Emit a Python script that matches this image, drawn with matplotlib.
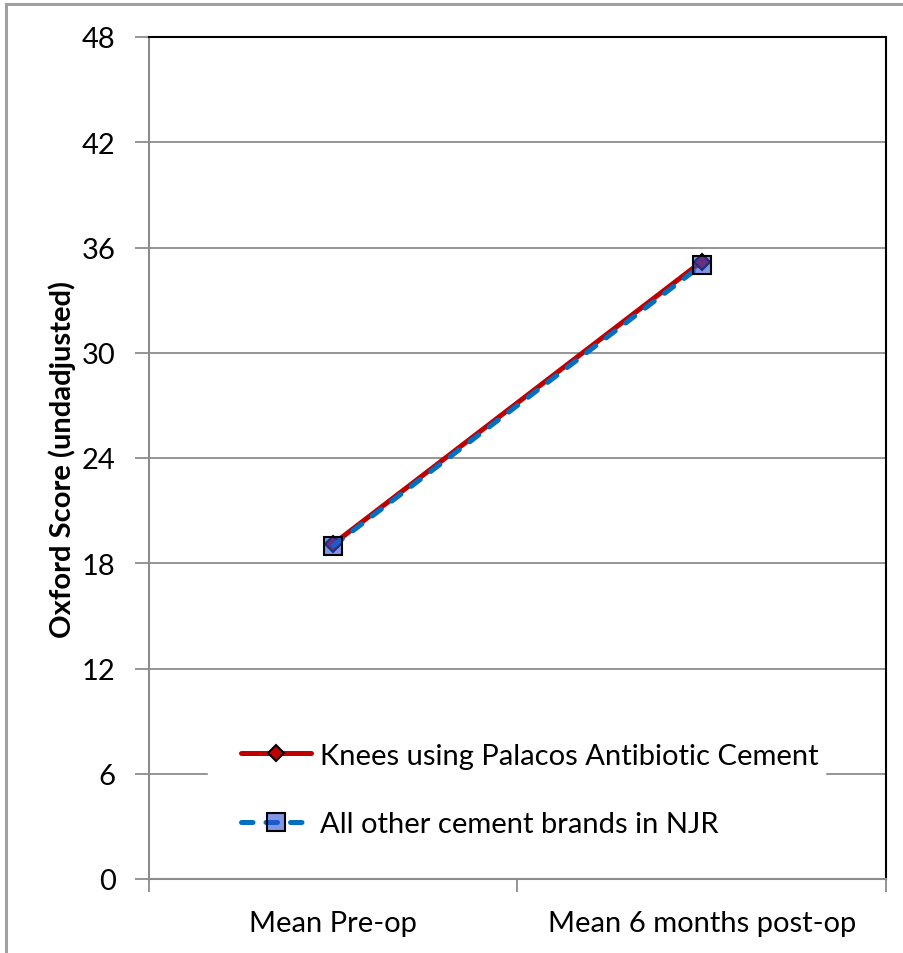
import matplotlib.pyplot as plt
from matplotlib.lines import Line2D
import numpy as np

plt.rcParams['font.family'] = ['Lato', 'DejaVu Sans']

categories = ["Mean Pre-op", "Mean 6 months post-op"]
palacos = [19.1, 35.2]
other = [19.0, 35.0]
series_names = ["Knees using Palacos Antibiotic Cement", "All other cement brands in NJR"]
y_ticks = [0, 6, 12, 18, 24, 30, 36, 42, 48]

fig = plt.figure(figsize=(9.04, 9.54), dpi=100)
ax = fig.add_axes([149 / 904, 74 / 954, 737 / 904, 842 / 954])

x = np.arange(len(categories))

# outer chart border (only top and left visible in the crop)
grey = "#a0a0a0"
fig.add_artist(Line2D([6 / 904, 6 / 904], [0, 1 - 5 / 954], color=grey, lw=2.2))
fig.add_artist(Line2D([6 / 904, 1], [1 - 5 / 954, 1 - 5 / 954], color=grey, lw=2.2))

ax.plot(x, palacos, color="#c00000", lw=3.6, marker="D", markersize=8.5,
        markerfacecolor="#c00000", markeredgecolor="black", markeredgewidth=1.5,
        solid_capstyle="round", label=series_names[0], zorder=3)
ax.plot(x, other, color="#0070c0", lw=3.6, linestyle=(0, (2.3, 2.6)),
        dash_capstyle="round", marker="s", markersize=13,
        markerfacecolor=(43 / 255, 80 / 255, 213 / 255, 0.6),
        markeredgecolor="black", markeredgewidth=1.5,
        label=series_names[1], zorder=4)

ax.set_xlim(-0.5, 1.5)
ax.set_ylim(0, 48)
ax.set_yticks(y_ticks)
ax.set_yticklabels([str(v) for v in y_ticks], fontsize=21)
ax.yaxis.grid(True, color="#8c8c8c", lw=1.3)
ax.set_axisbelow(True)

ax.set_xticks([-0.5, 0.5, 1.5])
ax.set_xticklabels([])
ax.set_xticks(x, minor=True)
ax.set_xticklabels(categories, minor=True, fontsize=21)
ax.tick_params(axis="x", which="minor", length=0, pad=22)
ax.tick_params(axis="x", which="major", length=9, width=1.3, color="#8c8c8c", direction="out")
ax.tick_params(axis="y", length=10, width=1.3, color="#8c8c8c", pad=14)

for side in ["left", "bottom"]:
    ax.spines[side].set_color("#8c8c8c")
    ax.spines[side].set_linewidth(1.5)
for side in ["top", "right"]:
    ax.spines[side].set_color("black")
    ax.spines[side].set_linewidth(1.5)

ax.set_ylabel("Oxford Score (undadjusted)", fontsize=21, fontweight="bold", labelpad=4)

leg = ax.legend(loc="center left", bbox_to_anchor=(44 / 737, 89 / 842, 691 / 737 - 44 / 737, 0),
                mode="expand", fontsize=21, frameon=True, fancybox=False,
                handlelength=2.4, labelspacing=1.47, borderpad=1.15, handletextpad=0.3)
leg.get_frame().set_facecolor("white")
leg.get_frame().set_edgecolor("white")
leg.get_frame().set_alpha(1)
leg.set_zorder(2.4)

fig.savefig("out.png", dpi=100)
